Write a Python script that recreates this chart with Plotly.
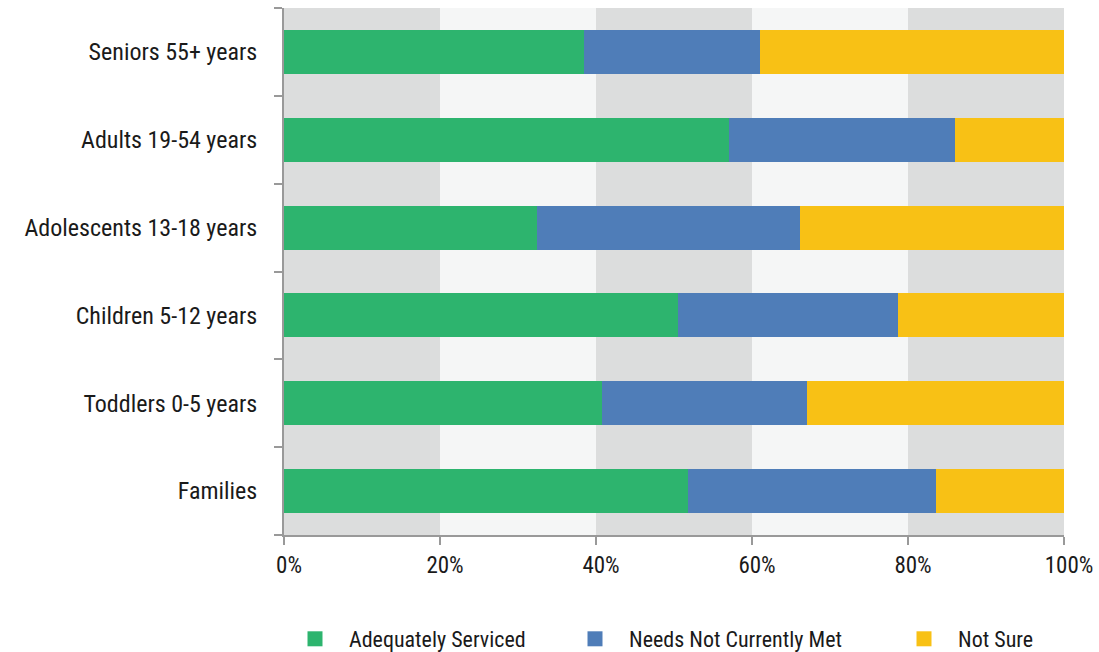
import plotly.graph_objects as go

categories = ["Families", "Toddlers 0-5 years", "Children 5-12 years",
              "Adolescents 13-18 years", "Adults 19-54 years", "Seniors 55+ years"]
adequately = [51.8, 40.8, 50.5, 32.4, 57.1, 38.5]
needs_not_met = [31.8, 26.3, 28.2, 33.8, 28.9, 22.5]
not_sure = [16.4, 32.9, 21.3, 33.8, 14.0, 39.0]
x_ticks = [0, 20, 40, 60, 80, 100]
x_tick_labels = ["0%", "20%", "40%", "60%", "80%", "100%"]
stripe_edges = [0, 20, 40, 60, 80, 100]

FONT = "Liberation Sans Narrow, Arial Narrow, Roboto Condensed, Roboto, sans-serif"

fig = go.Figure()
series = [("Adequately Serviced", adequately, "#2db46e", "legend"),
          ("Needs Not Currently Met", needs_not_met, "#4f7db8", "legend2"),
          ("Not Sure", not_sure, "#f8c115", "legend3")]
for name, vals, col, lg in series:
    fig.add_trace(go.Bar(y=categories, x=vals, name=name, orientation="h",
                         showlegend=False, marker=dict(color=col, line=dict(width=0))))
for name, vals, col, lg in series:
    fig.add_trace(go.Scatter(x=[None], y=[None], mode="markers", name=name,
                             legend=lg, showlegend=True, hoverinfo="skip",
                             marker=dict(symbol="square", size=15, color=col,
                                         line=dict(width=0))))

shapes = []
for i in range(len(stripe_edges) - 1):
    shapes.append(dict(type="rect", xref="x", yref="paper",
                       x0=stripe_edges[i], x1=stripe_edges[i + 1], y0=0, y1=1,
                       fillcolor="#dcdddd" if i % 2 == 0 else "#f5f6f6",
                       line=dict(width=0), layer="below"))

def leg(xpx):
    return dict(orientation="h", xref="container", x=xpx / 1099, xanchor="left",
                yref="container", y=1 - 639 / 652, yanchor="middle",
                font=dict(size=22), itemwidth=58, bgcolor="rgba(0,0,0,0)")

fig.update_layout(
    barmode="stack",
    bargap=0.5,
    width=1099, height=652,
    margin=dict(l=284, r=35, t=8, b=117, autoexpand=False),
    paper_bgcolor="white", plot_bgcolor="white",
    font=dict(family=FONT, size=24, color="#1a1a1a"),
    shapes=shapes,
    showlegend=True,
    legend=leg(281),
    legend2=leg(561),
    legend3=leg(890),
    xaxis=dict(range=[0, 100], tickvals=x_ticks, ticktext=x_tick_labels,
               showgrid=False, zeroline=False, showline=True, linecolor="#999999",
               linewidth=2, ticks="outside", ticklen=8, tickcolor="#999999", tickwidth=2,
               ticklabelshift=5, tickfont=dict(size=23)),
    yaxis=dict(showgrid=False, zeroline=False, showline=True, linecolor="#999999",
               linewidth=2, ticks="outside", ticklen=8, tickcolor="#999999", tickwidth=2,
               tickson="boundaries", ticklabelstandoff=20),
)
fig.write_html("out.html")
